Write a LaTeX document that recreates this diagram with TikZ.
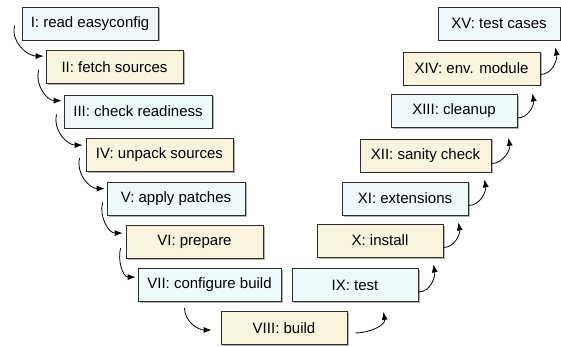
\documentclass[tikz,border=0pt]{standalone}
\usepackage{fontspec}
\setmainfont{Liberation Sans}
\usetikzlibrary{arrows.meta}
\usetikzlibrary{shadows}
\usetikzlibrary{calc}
\definecolor{stageblue}{RGB}{238,249,252}
\definecolor{stagetan}{RGB}{250,243,222}
\definecolor{stageedge}{RGB}{45,45,45}
\tikzstyle{line} = [draw, -{Latex[length=8pt,width=6pt]}]
\tikzset{
    stage/.style={draw=stageedge, line width=0.8pt, minimum height=33pt, inner sep=0pt,
        font=\fontsize{15}{18}\selectfont,
        drop shadow={shadow xshift=1.5pt, shadow yshift=-1.5pt, opacity=0.3, fill=black}},
    bluestage/.style={stage, fill=stageblue, minimum width=#1},
    tanstage/.style={stage, fill=stagetan, minimum width=#1},
    stepdown/.style={line, line width=0.8pt, out=-105, in=180},
    stepup/.style={line, line width=0.8pt, out=0, in=-80},
}
\begin{document}
\begin{tikzpicture}[x=1pt, y=-1pt]
	\useasboundingbox (0,0) rectangle (561,347);
	% left branch
	\node[bluestage=136pt] (read) at (90,23.5) {I: read easyconfig};
	\node[tanstage=137pt] (fetch) at (114.5,67) {II: fetch sources};
	\node[bluestage=148pt] (ready) at (138,111.5) {III: check readiness};
	\node[tanstage=147pt] (unpack) at (159.5,155) {IV: unpack sources};
	\node[bluestage=138pt] (patch) at (176,198.5) {V: apply patches};
	\node[tanstage=137pt] (prep) at (194.5,242) {VI: prepare};
	\node[bluestage=143pt] (conf) at (209.5,285) {VII: configure build};
	\node[tanstage=126pt] (build) at (284,328) {VIII: build};
	% right branch
	\node[bluestage=126pt] (test) at (355,285) {IX: test};
	\node[tanstage=126pt] (inst) at (380,240.5) {X: install};
	\node[bluestage=126pt] (ext) at (405,198.5) {XI: extensions};
	\node[tanstage=131pt] (sanity) at (425.5,155.5) {XII: sanity check};
	\node[bluestage=126pt] (clean) at (454,111) {XIII: cleanup};
	\node[tanstage=137pt] (module) at (471.5,68.5) {XIV: env. module};
	\node[bluestage=122pt] (tests) at (499,23.5) {XV: test cases};

	\draw[stepdown] ($(read.west)+(-7,2)$) to ($(fetch.north west)+(-2,6)$);
	\draw[stepdown] ($(fetch.west)+(-7,3)$) to ($(ready.north west)+(-2,6)$);
	\draw[stepdown] ($(ready.west)+(-7,3)$) to ($(unpack.north west)+(-3,7)$);
	\draw[stepdown] ($(unpack.west)+(-6,3)$) to ($(patch.north west)+(-2,7)$);
	\draw[stepdown] ($(patch.west)+(-4,4)$) to ($(prep.north west)+(-3,8)$);
	\draw[stepdown] ($(prep.west)+(-5,6)$) to ($(conf.north west)+(-2,9)$);
	\draw[line, line width=0.8pt] ($(conf.south)+(-25,6)$) to[out=-90, in=180] ($(build.west)+(-9,2)$);
	\draw[stepup] ($(build.east)+(8,5)$) to ($(build.east |- test.south)+(36,10)$);
	\draw[stepup] ($(test.east)+(0,7)$) to ($(test.east |- inst.south)+(15,7)$);
	\draw[stepup] ($(inst.east)+(0,7)$) to ($(inst.east |- ext.south)+(15,7)$);
	\draw[stepup] ($(ext.east)+(0,7)$) to ($(ext.east |- sanity.south)+(16,7)$);
	\draw[stepup] ($(sanity.east)+(0,8)$) to ($(sanity.east |- clean.south)+(17,10)$);
	\draw[stepup] ($(clean.east)+(0,7)$) to ($(clean.east |- module.south)+(15,8)$);
	\draw[stepup] ($(module.east)+(0,6)$) to ($(module.east |- tests.south)+(15,7)$);
\end{tikzpicture}
\end{document}
